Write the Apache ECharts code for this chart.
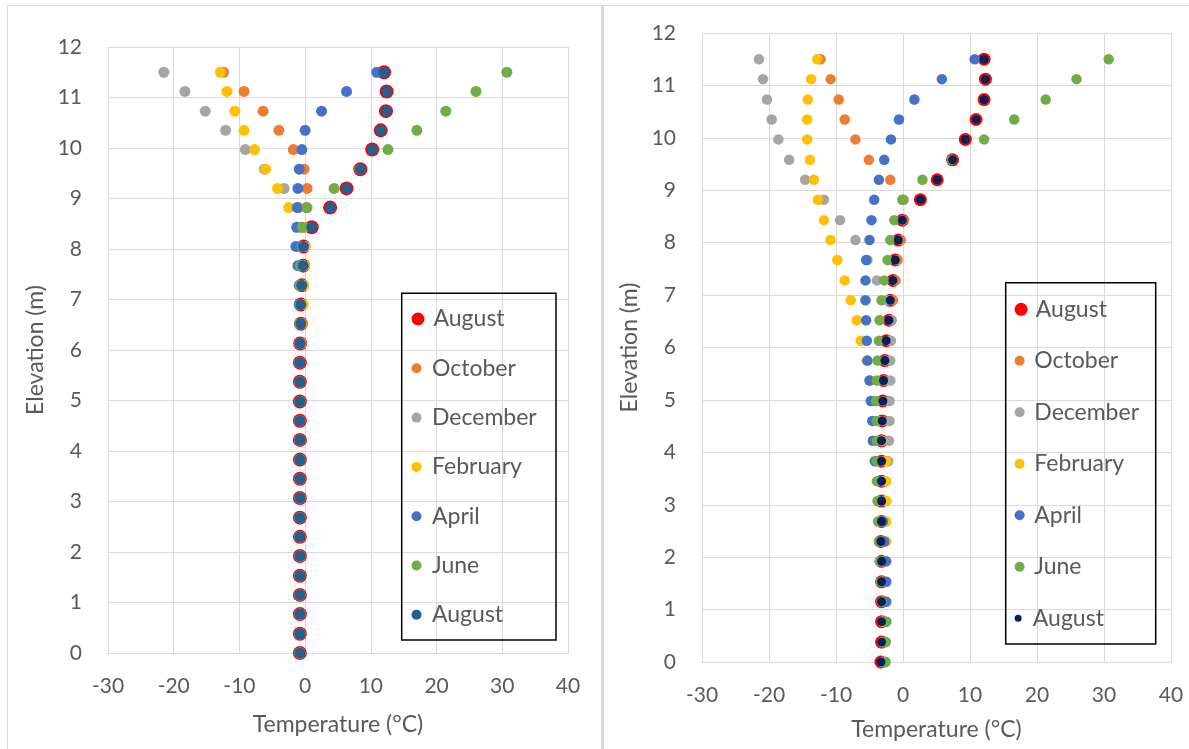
<!doctype html>
<html>
<head>
<meta charset="utf-8">
<title>Temperature profiles</title>
<script src="https://cdn.jsdelivr.net/npm/echarts@6/dist/echarts.min.js"></script>
<style>
  body { margin: 0; background: #fff; overflow: hidden; }
  .panel {
    position: absolute;
    top: 5px;
    height: 760px;
    border-top: 1px solid #d9d9d9;
  }
  #left { left: 7px; width: 594px; border-left: 1px solid #d9d9d9; }
  #right { left: 601px; width: 585px; border-left: 3px solid #d9d9d9; }
</style>
</head>
<body>
<div id="left" class="panel"></div>
<div id="right" class="panel"></div>

<script>
// elevation of each sensor (m), bottom to top
var elevation = [0, 0.38, 0.77, 1.15, 1.53, 1.92, 2.3, 2.68, 3.07, 3.45, 3.83, 4.22, 4.6, 4.98, 5.37, 5.75,
  6.13, 6.52, 6.9, 7.28, 7.67, 8.05, 8.43, 8.82, 9.2, 9.58, 9.97, 10.35, 10.73, 11.12, 11.5];

var seriesNames = ['August', 'October', 'December', 'February', 'April', 'June', 'August (2)'];

// left chart temperatures (°C)
var leftAugust = [-0.8, -0.8, -0.8, -0.8, -0.8, -0.8, -0.8, -0.8, -0.8, -0.8, -0.8, -0.8, -0.8, -0.8, -0.8, -0.8,
  -0.75, -0.65, -0.65, -0.5, -0.3, -0.25, 1.0, 3.8, 6.3, 8.4, 10.2, 11.5, 12.3, 12.4, 12.0];
var leftOctober = [-0.8, -0.8, -0.8, -0.8, -0.8, -0.8, -0.8, -0.8, -0.8, -0.8, -0.8, -0.8, -0.8, -0.8, -0.8, -0.8,
  -0.8, -0.8, -0.6, -0.5, -0.3, -0.2, -0.2, 0.2, 0.3, -0.15, -1.8, -4.0, -6.4, -9.3, -12.4];
var leftDecember = [-0.8, -0.8, -0.8, -0.8, -0.8, -0.8, -0.8, -0.8, -0.8, -0.8, -0.8, -0.8, -0.8, -0.8, -0.8, -0.8,
  -0.8, -0.8, -0.8, -0.8, -0.5, -0.5, -0.6, -1.0, -3.2, -6.2, -9.1, -12.1, -15.2, -18.3, -21.5];
var leftFebruary = [-0.8, -0.8, -0.8, -0.8, -0.8, -0.8, -0.8, -0.8, -0.8, -0.8, -0.8, -0.8, -0.8, -0.8, -0.8, -0.8,
  -0.6, -0.5, -0.3, -0.2, -0.1, 0.0, -0.4, -2.5, -4.2, -6.0, -7.7, -9.3, -10.7, -11.9, -12.9];
var leftApril = [-0.8, -0.8, -0.8, -0.8, -0.8, -0.8, -0.8, -0.8, -0.8, -0.8, -0.8, -0.8, -0.8, -0.8, -0.8, -0.8,
  -0.8, -0.8, -0.9, -0.9, -1.1, -1.4, -1.3, -1.2, -1.1, -0.9, -0.5, 0.0, 2.5, 6.3, 10.9];
var leftJune = [-0.8, -0.8, -0.8, -0.8, -0.8, -0.8, -0.8, -0.8, -0.8, -0.8, -0.8, -0.8, -0.8, -0.8, -0.8, -0.8,
  -0.8, -0.8, -0.8, -0.8, -0.7, -0.4, -0.4, 0.3, 4.4, 8.3, 12.6, 17.0, 21.4, 26.0, 30.7];
var leftAugust2 = [-0.8, -0.8, -0.8, -0.8, -0.8, -0.8, -0.8, -0.8, -0.8, -0.8, -0.8, -0.8, -0.8, -0.8, -0.8, -0.8,
  -0.75, -0.65, -0.65, -0.5, -0.3, -0.25, 1.0, 3.8, 6.3, 8.4, 10.2, 11.5, 12.3, 12.4, 12.0];

// right chart temperatures (°C)
var rightAugust = [-3.3, -3.2, -3.2, -3.2, -3.2, -3.2, -3.3, -3.2, -3.2, -3.2, -3.2, -3.2, -3.1, -3.0, -2.9, -2.7,
  -2.5, -2.1, -1.9, -1.5, -1.15, -0.7, -0.1, 2.6, 5.1, 7.4, 9.3, 10.9, 12.1, 12.3, 12.1];
var rightOctober = [-3.1, -3.1, -3.1, -3.1, -3.1, -3.0, -3.0, -3.0, -3.0, -3.0, -3.0, -3.0, -3.0, -2.9, -2.8, -2.6,
  -2.0, -1.7, -1.5, -1.1, -0.8, -0.3, 0.0, 0.1, -1.9, -5.1, -7.1, -8.7, -9.6, -10.8, -12.3];
var rightDecember = [-3.0, -3.0, -3.0, -3.0, -3.0, -3.0, -3.0, -3.0, -3.0, -3.0, -2.2, -2.1, -2.0, -2.0, -1.9, -1.9,
  -1.8, -1.9, -2.2, -3.9, -5.3, -7.1, -9.4, -11.8, -14.6, -17.0, -18.6, -19.6, -20.3, -20.9, -21.5];
var rightFebruary = [-3.0, -3.0, -3.0, -3.0, -3.0, -2.6, -2.5, -2.5, -2.5, -2.5, -2.5, -3.2, -3.8, -4.3, -4.9, -5.4,
  -6.3, -6.9, -7.8, -8.7, -9.8, -10.8, -11.8, -12.7, -13.3, -13.9, -14.3, -14.3, -14.2, -13.7, -12.8];
var rightApril = [-2.7, -2.6, -2.5, -2.5, -2.5, -2.5, -2.8, -3.0, -3.3, -3.6, -4.2, -4.5, -4.6, -4.8, -5.0, -5.3,
  -5.4, -5.5, -5.6, -5.6, -5.5, -5.0, -4.7, -4.3, -3.6, -2.8, -1.8, -0.6, 1.7, 5.8, 10.7];
var rightJune = [-2.6, -2.6, -2.6, -3.2, -3.3, -3.5, -3.6, -3.7, -3.8, -3.9, -3.9, -3.9, -3.9, -4.0, -3.9, -3.8,
  -3.6, -3.5, -3.2, -2.8, -2.3, -1.9, -1.3, -0.1, 2.9, 7.3, 12.1, 16.6, 21.3, 25.9, 30.7];
var rightAugust2 = [-3.3, -3.2, -3.2, -3.2, -3.2, -3.2, -3.3, -3.2, -3.2, -3.2, -3.2, -3.2, -3.1, -3.0, -2.9, -2.7,
  -2.5, -2.1, -1.9, -1.5, -1.15, -0.7, -0.1, 2.6, 5.1, 7.4, 9.3, 10.9, 12.1, 12.3, 12.1];

var xTicks = { min: -30, max: 40, step: 10 };
var yTicks = { min: 0, max: 12, step: 1 };

var textColor = '#595959';
var gridColor = '#d9d9d9';
var font = 'Lato, Carlito, Calibri, sans-serif';

function pairs(temps) {
  return temps.map(function (t, i) { return [t, elevation[i]]; });
}

function makeOption(cfg) {
  var series = cfg.temps.map(function (temps, i) {
    return {
      name: seriesNames[i],
      type: 'scatter',
      symbol: 'circle',
      symbolSize: cfg.sizes[i],
      itemStyle: { color: cfg.colors[i], opacity: 1 },
      data: pairs(temps),
      z: 2 + i
    };
  });
  // one legend per entry so each keeps its own marker size
  var legends = seriesNames.map(function (name, i) {
    return {
      data: [name],
      orient: 'vertical',
      selectedMode: false,
      padding: 0,
      left: cfg.legend.cx - cfg.legend.w / 2,
      top: cfg.legend.cy + i * cfg.legend.step - 14,
      itemWidth: cfg.legend.w,
      itemHeight: cfg.legendSizes[i],
      icon: 'circle',
      formatter: function (n) { return n.replace(' (2)', ''); },
      textStyle: { color: textColor, fontFamily: font, fontSize: 23, lineHeight: 28 }
    };
  });
  return {
    animation: false,
    backgroundColor: '#fff',
    grid: cfg.grid,
    xAxis: {
      type: 'value', min: xTicks.min, max: xTicks.max, interval: xTicks.step,
      name: 'Temperature (°C)', nameLocation: 'middle', nameGap: cfg.xNameGap,
      nameTextStyle: { color: textColor, fontFamily: font, fontSize: 23 },
      axisLine: { show: true, onZero: false, lineStyle: { color: gridColor, width: 1 } },
      axisTick: { show: false },
      axisLabel: { color: textColor, fontFamily: font, fontSize: 21, margin: 23 },
      splitLine: { show: true, lineStyle: { color: gridColor, width: 1 } }
    },
    yAxis: {
      type: 'value', min: yTicks.min, max: yTicks.max, interval: yTicks.step,
      name: 'Elevation (m)', nameLocation: 'middle', nameGap: cfg.yNameGap,
      nameTextStyle: { color: textColor, fontFamily: font, fontSize: 23 },
      axisLine: { show: true, onZero: false, lineStyle: { color: gridColor, width: 1 } },
      axisTick: { show: false },
      axisLabel: { color: textColor, fontFamily: font, fontSize: 21, margin: 26 },
      splitLine: { show: true, lineStyle: { color: gridColor, width: 1 } }
    },
    legend: legends,
    graphic: [{
      type: 'rect',
      shape: cfg.legendBox,
      style: { fill: 'rgba(0,0,0,0)', stroke: '#000', lineWidth: 1.5 },
      z: 1
    }],
    series: series
  };
}

var leftChart = echarts.init(document.getElementById('left'));
leftChart.setOption(makeOption({
  temps: [leftAugust, leftOctober, leftDecember, leftFebruary, leftApril, leftJune, leftAugust2],
  colors: ['#ff0000', '#ed7d31', '#a5a5a5', '#ffc000', '#4472c4', '#70ad47', '#255e91'],
  sizes: [14, 11, 11, 11, 11, 11, 11],
  legendSizes: [13, 10, 10, 10, 10, 10, 10],
  grid: { left: 100, top: 41, width: 460, height: 606 },
  xNameGap: 60,
  yNameGap: 55,
  legend: { cx: 414, cy: 313, step: 49.3, w: 21 },
  legendBox: { x: 393.7, y: 287.3, width: 154.3, height: 346.7 }
}));

var rightChart = echarts.init(document.getElementById('right'));
rightChart.setOption(makeOption({
  temps: [rightAugust, rightOctober, rightDecember, rightFebruary, rightApril, rightJune, rightAugust2],
  colors: ['#ff0000', '#ed7d31', '#a5a5a5', '#ffc000', '#4472c4', '#70ad47', '#002060'],
  sizes: [13, 10.5, 10.5, 10.5, 10.5, 10.5, 9],
  legendSizes: [13, 10, 10, 10, 10, 10, 7],
  grid: { left: 98, top: 27, width: 469, height: 629 },
  xNameGap: 56,
  yNameGap: 52,
  legend: { cx: 420.3, cy: 303.3, step: 51.5, w: 19.4 },
  legendBox: { x: 401.7, y: 276.7, width: 150, height: 361.3 }
}));
</script>
</body>
</html>
